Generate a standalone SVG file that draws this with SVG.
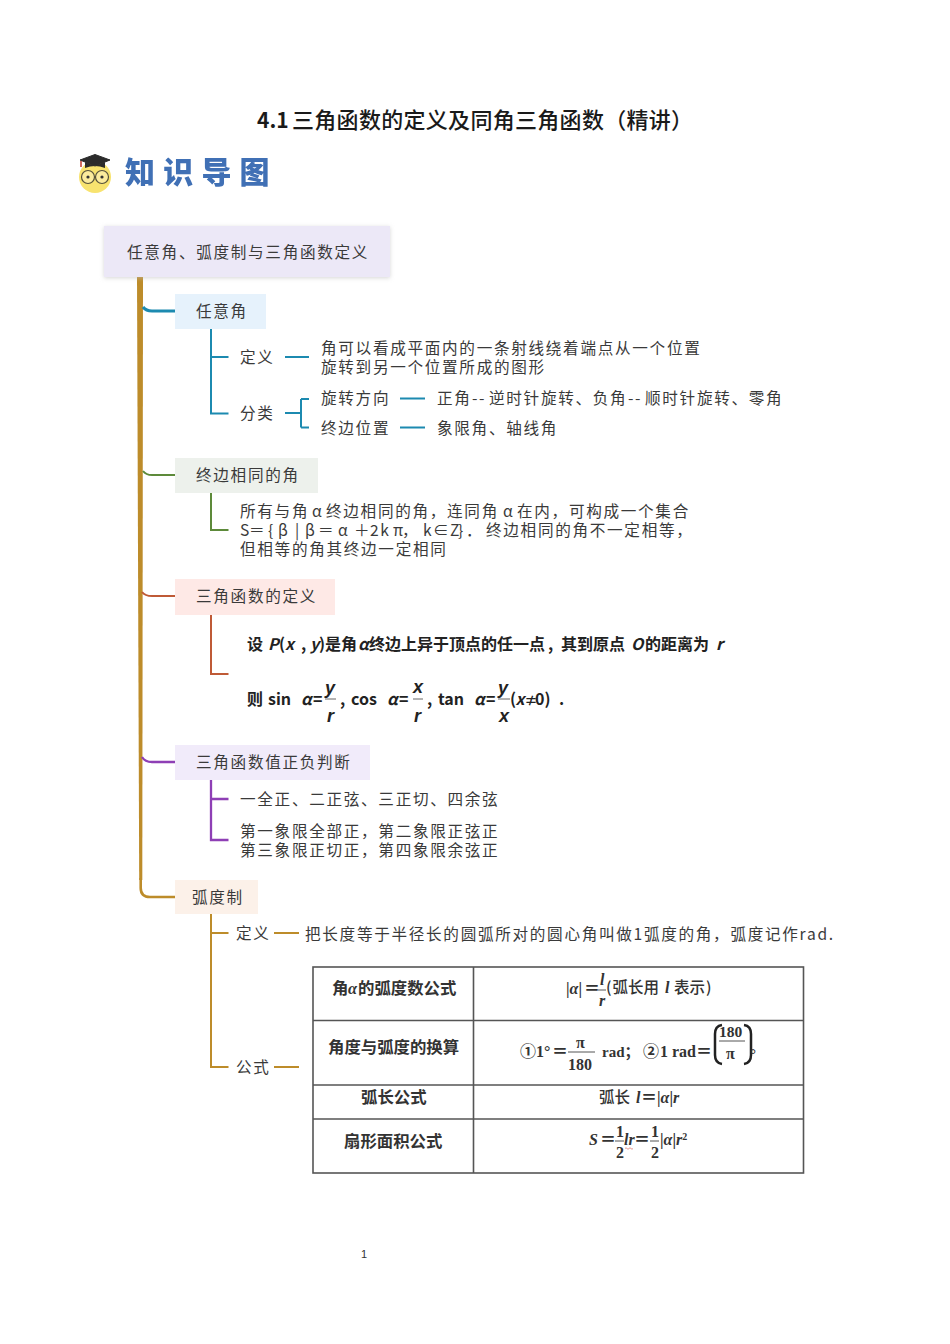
<svg xmlns="http://www.w3.org/2000/svg" width="950" height="1344" viewBox="0 0 950 1344">
<style>
text{font-family:"Noto Sans CJK SC","Noto Sans",sans-serif;fill:#3a3a3a;font-size:15.6px;letter-spacing:1.7px}
.f{font-weight:700;fill:#222;font-size:16px;letter-spacing:0}
.t{font-weight:700;fill:#333;font-size:16.400px;letter-spacing:0}
.c{font-weight:500;font-size:15.500px;letter-spacing:0;fill:#333}
.m{font-family:"Liberation Serif","Noto Sans CJK SC",serif;font-weight:700;font-size:16px;letter-spacing:0;fill:#333}
.i{font-style:italic}
.mi{font-family:"Liberation Sans","Noto Sans CJK SC",sans-serif;font-weight:700;font-style:italic;font-size:18px;letter-spacing:0;fill:#222}
.w{fill:none}
.b{fill:none;stroke:#1c8ab0;stroke-width:2}
.g{fill:none;stroke:#5d8a3a;stroke-width:2}
.r{fill:none;stroke:#bf5a36;stroke-width:2}
.p{fill:none;stroke:#8e3fb5;stroke-width:2.300}
.o{fill:none;stroke:#bd8c2a;stroke-width:2}
.tb{fill:none;stroke:#555;stroke-width:1.600}
</style>
<defs>
<filter id="sh" x="-5%" y="-10%" width="110%" height="125%"><feDropShadow dx="0" dy="1" stdDeviation="2" flood-color="#bbb" flood-opacity=".6"/></filter>
<filter id="bl" x="-5%" y="-10%" width="110%" height="120%"><feGaussianBlur stdDeviation=".5"/></filter>
</defs>

<text id="title" x="257" y="128" style="font-size:21px;font-weight:700;letter-spacing:0;fill:#1a1a1a">4.1<tspan x="292" style="font-size:22px;font-weight:500;letter-spacing:.3px">三角函数的定义及同角三角函数（精讲）</tspan></text>

<g id="logo">
<circle cx="95" cy="177" r="16" fill="#f8e36f"/>
<path d="M80 160L95 154.500L110 160L95 166Z" fill="#2b2b2b" stroke="#2b2b2b"/>
<path d="M85 162v6q10-4 20 0v-6L95 166Z" fill="#2b2b2b"/>
<path d="M81 161v6" stroke="#c0392b" stroke-width="1.500" fill="none"/>
<circle cx="88" cy="177" r="6.500" fill="#fbeb9c" stroke="#55503a" stroke-width="1.200"/>
<circle cx="102" cy="177" r="6.500" fill="#fbeb9c" stroke="#55503a" stroke-width="1.200"/>
<circle cx="88" cy="177" r="1.600" fill="#333"/><circle cx="102" cy="177" r="1.600" fill="#333"/>
<text x="125" y="183" filter="url(#bl)" style="font-size:30px;font-weight:900;fill:#3f6fb5;letter-spacing:8.200px">知识导图</text>
</g>

<g id="connectors">
<path d="M137 277H143L142.300 880H139.200Z" style="fill:#bd8c2a"/>
<path d="M140.700 878V888Q140.700 897 150 897H175" style="fill:none;stroke:#bd8c2a;stroke-width:2.600"/>
<path d="M143 307Q146 311 152 311H175" style="fill:none;stroke:#1c8ab0;stroke-width:3"/>
<path d="M143 471Q146 475 152 475H175" style="fill:none;stroke:#5d8a3a;stroke-width:2"/>
<path d="M142 592Q145 596 152 596H175" style="fill:none;stroke:#bf5a36;stroke-width:2"/>
<path d="M142 757Q145 762 152 762H175" style="fill:none;stroke:#8e3fb5;stroke-width:2.300"/>
<path class="b" d="M211 329V413.500H228.500M211 357H228.500M285 357H309M285 413H301M301 399V427.500M301 399H309M301 427.500H309M400 398.500H425M400 427.500H425"/>
<path class="g" d="M211 493V530H228.500"/>
<path class="r" d="M211 614V674H228.500"/>
<path class="p" d="M211 780V840H228.500M211 799H228.500"/>
<path class="o" d="M211 914V1067H228.500M211 933H228.500M274 933H299M274 1067H299"/>
</g>

<g id="root"><rect x="104" y="226" width="286" height="51" fill="#ece8f7" filter="url(#sh)"/><text x="127" y="258">任意角、弧度制与三角函数定义</text></g>

<g id="n1"><rect x="175" y="294" width="91" height="35" fill="#e6f2fc"/><text x="196" y="317">任意角</text></g>
<g id="n1a"><text x="240" y="363">定义</text></g>
<g id="n1a1"><text x="321" y="354">角可以看成平面内的一条射线绕着端点从一个位置</text><text x="321" y="373">旋转到另一个位置所成的图形</text></g>
<g id="n1b"><text x="240" y="419">分类</text></g>
<g id="n1b1"><text x="321" y="404">旋转方向</text></g>
<g id="n1b2"><text x="321" y="434">终边位置</text></g>
<g id="n1b1v"><text x="437" y="404">正角<tspan x="472" style="letter-spacing:1.500px">--</tspan><tspan x="489">逆时针旋转、负角</tspan><tspan x="628" style="letter-spacing:1.500px">--</tspan><tspan x="645">顺时针旋转、零角</tspan></text></g>
<g id="n1b2v"><text x="437" y="434">象限角、轴线角</text></g>

<g id="n2"><rect x="175" y="458" width="143" height="35" fill="#edf1ec"/><text x="196" y="481">终边相同的角</text></g>
<g id="n2a">
<text x="240" y="517">所有与角<tspan x="312">α</tspan><tspan x="326">终边相同的角，连同角</tspan><tspan x="503">α</tspan><tspan x="517">在内，可构成一个集合</tspan></text>
<text x="240" y="536">S<tspan x="249">＝</tspan><tspan x="268">{</tspan><tspan x="278">β</tspan><tspan x="295">|</tspan><tspan x="305">β</tspan><tspan x="318">＝</tspan><tspan x="338">α</tspan><tspan x="354">＋</tspan><tspan x="370">2k</tspan><tspan x="393">π</tspan><tspan x="402">，</tspan><tspan x="423">k</tspan><tspan x="433">∈</tspan><tspan x="450">Z</tspan><tspan x="458">}</tspan><tspan x="466">．</tspan><tspan x="486">终边相同的角不一定相等，</tspan></text>
<text x="240" y="555">但相等的角其终边一定相同</text>
</g>

<g id="n3"><rect x="175" y="579" width="160" height="36" fill="#fee9e6"/><text x="196" y="602">三角函数的定义</text></g>
<g id="n3a">
<text x="247" y="650" class="f">设<tspan x="268" class="i">P</tspan><tspan x="279">(</tspan><tspan x="285" class="i">x</tspan><tspan x="301">,</tspan><tspan x="310" class="i">y</tspan><tspan x="319">)</tspan><tspan x="325">是角</tspan><tspan x="358" class="i">α</tspan><tspan x="369">终边上异于顶点的任一点</tspan><tspan x="548">,</tspan><tspan x="561">其到原点</tspan><tspan x="631" class="i">O</tspan><tspan x="645">的距离为</tspan><tspan x="716" class="i">r</tspan></text>
<text x="247" y="705" class="f">则<tspan x="268">sin</tspan><tspan x="301" class="i">α</tspan><tspan x="313">=</tspan></text>
<text x="325" y="694" class="mi">y</text><path d="M325 699H336" stroke="#666" class="w"/><text x="327" y="722" class="mi">r</text>
<text x="340" y="705" class="f">,<tspan x="351">cos</tspan><tspan x="387" class="i">α</tspan><tspan x="399">=</tspan></text>
<text x="413" y="693" class="mi">x</text><path d="M413 699H423" stroke="#666" class="w"/><text x="414" y="722" class="mi">r</text>
<text x="427" y="705" class="f">,<tspan x="438">tan</tspan><tspan x="474" class="i">α</tspan><tspan x="486">=</tspan></text>
<text x="498" y="694" class="mi">y</text><path d="M498 699H510" stroke="#666" class="w"/><text x="499" y="722" class="mi">x</text>
<text x="510" y="705" class="f">(<tspan x="515.500" class="i">x</tspan><tspan x="524.500" style="font-size:13px">≠</tspan><tspan x="535">0)</tspan><tspan x="559">.</tspan></text>
</g>

<g id="n4"><rect x="175" y="745" width="195" height="35" fill="#f1ebfa"/><text x="196" y="768">三角函数值正负判断</text></g>
<g id="n4a"><text x="240" y="805">一全正、二正弦、三正切、四余弦</text></g>
<g id="n4b"><text x="240" y="837">第一象限全部正，第二象限正弦正</text><text x="240" y="856">第三象限正切正，第四象限余弦正</text></g>

<g id="n5"><rect x="175" y="880" width="83" height="34" fill="#fcf1e9"/><text x="192" y="903">弧度制</text></g>
<g id="n5a"><text x="236" y="939">定义</text></g>
<g id="n5a1"><text x="305" y="940">把长度等于半径长的圆弧所对的圆心角叫做1弧度的角，弧度记作rad.</text></g>
<g id="n5b"><text x="236" y="1073">公式</text></g>

<g id="table">
<rect class="tb" x="313" y="967" width="490.500" height="206"/>
<path class="tb" d="M473.500 967V1173M313 1020.500H803.500M313 1085H803.500M313 1119H803.500"/>
<text x="332" y="994" class="t">角<tspan x="348" class="i" style="font-family:'Liberation Serif',serif">α</tspan><tspan x="358">的弧度数公式</tspan></text>
<text x="328" y="1053" class="t">角度与弧度的换算</text>
<text x="361" y="1103" class="t">弧长公式</text>
<text x="344" y="1147" class="t">扇形面积公式</text>

<text x="566" y="994" class="m">|<tspan class="i">α</tspan>|<tspan x="584">＝</tspan></text>
<text x="600" y="985" class="m i">l</text><path d="M598 990H606" stroke="#555" class="w"/><text x="599" y="1006" class="m i">r</text>
<text x="606" y="993" class="c">(<tspan x="612.500">弧长用</tspan><tspan x="665" class="m i">l</tspan><tspan x="674">表示</tspan><tspan x="706">)</tspan></text>

<text x="520" y="1057" class="m">①<tspan x="536">1°</tspan><tspan x="552">＝</tspan></text>
<text x="576" y="1048" class="m">π</text><path d="M568 1052H595" stroke="#555" class="w"/><text x="568" y="1070" class="m">180</text>
<text x="602" y="1057" class="m" style="font-size:15px">rad；</text>
<text x="643" y="1057" class="m">②<tspan x="660">1 rad</tspan><tspan x="696">＝</tspan></text>
<text x="719" y="1037" class="m" style="font-size:15.500px">180</text><path d="M719 1041H745" stroke="#555" class="w"/><text x="726" y="1059" class="m">π</text>
<path d="M722 1025Q715 1026 715 1034V1055Q715 1063 722 1064M744 1025Q751 1026 751 1034V1055Q751 1063 744 1064" stroke="#222" stroke-width="2.500" class="w"/>
<text x="750" y="1059" class="m" style="font-size:15px">°</text>

<text x="599" y="1103" class="c">弧长<tspan x="636" class="m i">l</tspan><tspan x="641" class="m">＝</tspan><tspan x="657" class="m">|<tspan class="i">α</tspan>|<tspan class="i">r</tspan></tspan></text>

<text x="589" y="1145" class="m i">S</text><text x="600" y="1145" class="m">＝</text>
<text x="616" y="1137" class="m">1</text><path d="M615 1141H624" stroke="#555" class="w"/><text x="616" y="1158" class="m">2</text>
<text x="624" y="1145" class="m i">lr</text><text x="634" y="1145" class="m">＝</text>
<text x="651" y="1137" class="m">1</text><path d="M650 1141H659" stroke="#555" class="w"/><text x="651" y="1158" class="m">2</text>
<text x="660" y="1145" class="m">|<tspan class="i">α</tspan>|<tspan class="i">r</tspan><tspan dy="-5" style="font-size:10px">2</tspan></text>
<path d="M625 1148.500q1-1.500 2 0t2 0 2 0 2 0" stroke="#e07a70" stroke-width=".8" class="w"/>
</g>

<text id="page" x="361" y="1258" style="font-family:'Liberation Sans',sans-serif;font-size:11px;letter-spacing:0;fill:#333">1</text>
</svg>
